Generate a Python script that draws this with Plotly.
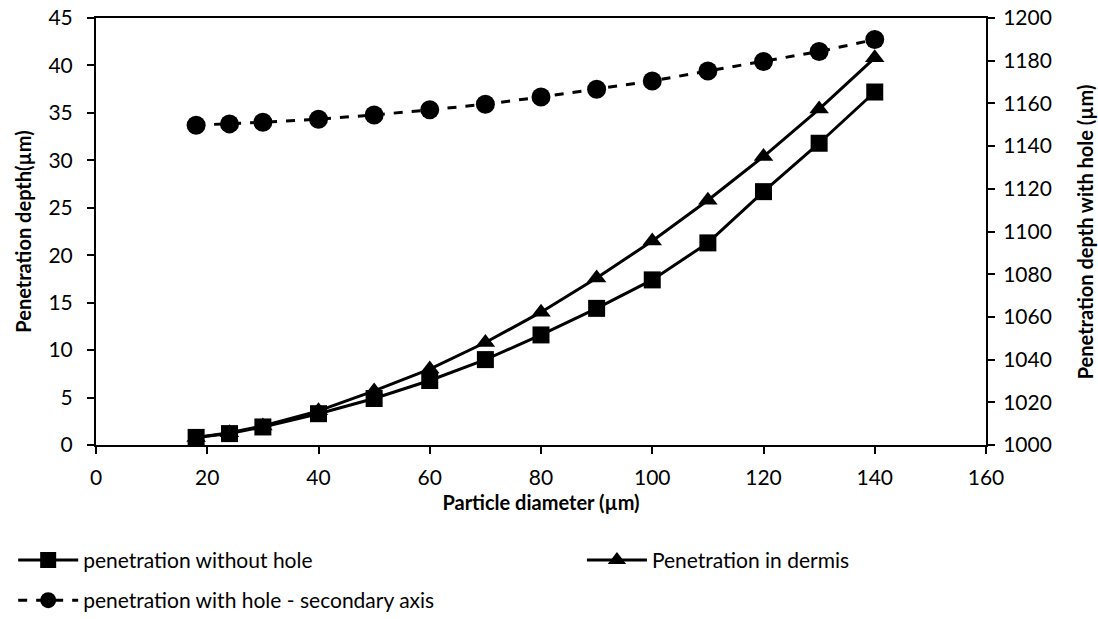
import plotly.graph_objects as go

# Particle diameters (µm)
diameter = [18, 24, 30, 40, 50, 60, 70, 80, 90, 100, 110, 120, 130, 140]

# Penetration depth (µm), primary axis
without_hole = [0.8, 1.2, 1.9, 3.3, 4.9, 6.8, 9.0, 11.6, 14.4, 17.4, 21.3, 26.7, 31.8, 37.2]
in_dermis = [0.8, 1.3, 2.0, 3.6, 5.7, 8.0, 10.8, 14.0, 17.6, 21.5, 25.8, 30.4, 35.4, 40.8]

# Penetration depth with hole (µm), secondary axis
with_hole = [1149.8, 1150.4, 1151.2, 1152.6, 1154.6, 1157.0, 1159.6, 1163.0,
             1166.6, 1170.5, 1175.2, 1179.6, 1184.3, 1189.9]

FONT = "Lato, 'Open Sans', sans-serif"
TICK_SIZE = 21
TITLE_SIZE = 20

fig = go.Figure()
fig.add_trace(go.Scatter(
    x=diameter, y=without_hole, name="penetration without hole",
    mode="lines+markers", legend="legend", legendgroup="a",
    line=dict(color="black", width=3),
    marker=dict(symbol="square", size=17, color="black"),
))
fig.add_trace(go.Scatter(
    x=diameter, y=in_dermis, name="Penetration in dermis",
    mode="lines+markers", legend="legend2",
    line=dict(color="black", width=3),
    marker=dict(symbol="triangle-up", size=17, color="black"),
))
fig.add_trace(go.Scatter(
    x=diameter, y=with_hole, name="penetration with hole - secondary axis",
    mode="lines+markers", yaxis="y2", legend="legend", legendgroup="b",
    line=dict(color="black", width=3, dash="dash"),
    marker=dict(symbol="circle", size=19, color="black"),
))

axis_common = dict(
    showgrid=False, zeroline=False, showline=True, linecolor="black", linewidth=2,
    ticks="outside", ticklen=7, tickwidth=2, tickcolor="black",
    tickfont=dict(family=FONT, size=TICK_SIZE, color="black"),
)

legend_common = dict(
    xref="container", yref="container", xanchor="left", yanchor="top",
    orientation="v", font=dict(family=FONT, size=TICK_SIZE, color="black"),
    itemwidth=60, tracegroupgap=10, bgcolor="rgba(0,0,0,0)",
)

fig.update_layout(
    width=1098, height=619,
    margin=dict(l=96, r=112, t=18, b=174, autoexpand=False),
    paper_bgcolor="white", plot_bgcolor="white",
    font=dict(family=FONT, color="black"),
    xaxis=dict(
        range=[0, 160], dtick=20, mirror=True, ticklabelstandoff=6,
        title=dict(text="<b>Particle diameter (µm)</b>", font=dict(family=FONT, size=TITLE_SIZE), standoff=8),
        **axis_common,
    ),
    yaxis=dict(range=[0, 45], dtick=5, ticklabelstandoff=10, **axis_common),
    yaxis2=dict(range=[1000, 1200], dtick=20, overlaying="y", side="right",
                ticklabelstandoff=4, **axis_common),
    legend=dict(x=0.012, y=0.128, **legend_common),
    legend2=dict(x=0.53, y=0.128, **legend_common),
    showlegend=True,
)

# Vertical axis titles
fig.add_annotation(
    text="<b>Penetration depth(µm)</b>", textangle=-90,
    xref="paper", yref="paper", x=-0.083, y=0.5, xanchor="center", yanchor="middle",
    showarrow=False, font=dict(family=FONT, size=TITLE_SIZE, color="black"),
)
fig.add_annotation(
    text="<b>Penetration depth with hole (µm)</b>", textangle=-90,
    xref="paper", yref="paper", x=1.111, y=0.5, xanchor="center", yanchor="middle",
    showarrow=False, font=dict(family=FONT, size=TITLE_SIZE, color="black"),
)

fig.write_html("out.html")
